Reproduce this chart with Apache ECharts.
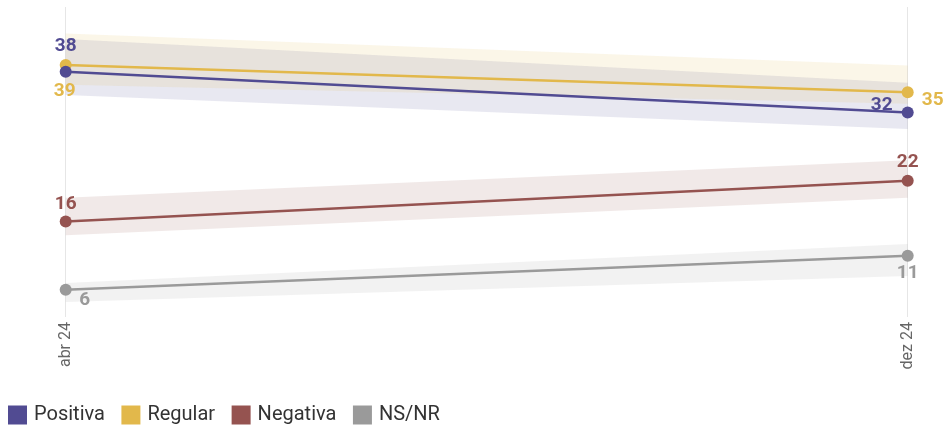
<!DOCTYPE html>
<html><head><meta charset="utf-8">
<script src="https://cdn.jsdelivr.net/npm/echarts@6/dist/echarts.min.js"></script>
<style>html,body{margin:0;padding:0;background:#fff}#c{width:946px;height:426px}</style>
</head><body><div id="c"></div>
<script>
const categories = ['abr 24', 'dez 24'];
const seriesNames = ['Positiva', 'Regular', 'Negativa', 'NS/NR'];
const positiva = [38, 32];
const regular = [39, 35];
const negativa = [16, 22];
const nsnr = [6, 11];
const positivaLow = [34.6, 29.6], positivaHigh = [42.8, 36.4];
const regularLow = [36.1, 33.3], regularHigh = [43.6, 38.9];
const negativaLow = [14.0, 19.5], negativaHigh = [19.5, 25.0];
const nsnrLow = [4.2, 8.0], nsnrHigh = [7.0, 12.7];

const colors = ['#514b92', '#e2b84b', '#955350', '#9a9a9a'];
const values = [positiva, regular, negativa, nsnr];
const lows = [positivaLow, regularLow, negativaLow, nsnrLow];
const highs = [positivaHigh, regularHigh, negativaHigh, nsnrHigh];
const labelOffsets = [
  [[0, -25], [-26, -7]],
  [[-1, 26], [25, 8]],
  [[0, -17], [0, -18]],
  [[19, 11], [0, 18]]
];

const series = [];
values.forEach((v, i) => {
  series.push({
    type: 'line', stack: 'band' + i, data: lows[i], symbol: 'none', silent: true,
    lineStyle: { opacity: 0 }, z: 1
  });
  series.push({
    type: 'line', stack: 'band' + i, data: highs[i].map((h, k) => +(h - lows[i][k]).toFixed(2)),
    symbol: 'none', silent: true, lineStyle: { opacity: 0 },
    areaStyle: { color: colors[i], opacity: 0.13 }, z: 1
  });
});
[3, 2, 1, 0].forEach(i => {
  series.push({
    name: seriesNames[i], type: 'line', z: 5,
    data: values[i].map((val, k) => ({
      value: val,
      label: { show: true, position: 'inside', offset: labelOffsets[i][k] }
    })),
    color: colors[i],
    symbol: 'circle', symbolSize: 12,
    lineStyle: { width: 2.5, color: colors[i] },
    itemStyle: { color: colors[i] },
    label: { color: colors[i], fontFamily: 'Roboto', fontWeight: 'bold', fontSize: 19 }
  });
});

const chart = echarts.init(document.getElementById('c'));
chart.setOption({
  animation: false,
  textStyle: { fontFamily: 'Roboto' },
  grid: { left: 65.7, right: 38.3, top: 7, bottom: 109 },
  xAxis: {
    type: 'category', data: categories, boundaryGap: false,
    axisLine: { show: false }, axisTick: { show: false },
    splitLine: { show: true, lineStyle: { color: '#e6e6e6', width: 1 } },
    axisLabel: { rotate: 90, color: '#666', fontSize: 16, margin: 5, fontFamily: 'Roboto' }
  },
  yAxis: {
    type: 'value', min: 2, max: 47.5, show: false, splitLine: { show: false }
  },
  legend: {
    data: seriesNames, left: 3, top: 400, icon: 'rect', itemWidth: 19, itemHeight: 19,
    itemGap: 16.5, textStyle: { fontSize: 20, color: '#333', fontFamily: 'Roboto', padding: [0, 0, 0, 2] }
  },
  series: series
});
</script></body></html>
